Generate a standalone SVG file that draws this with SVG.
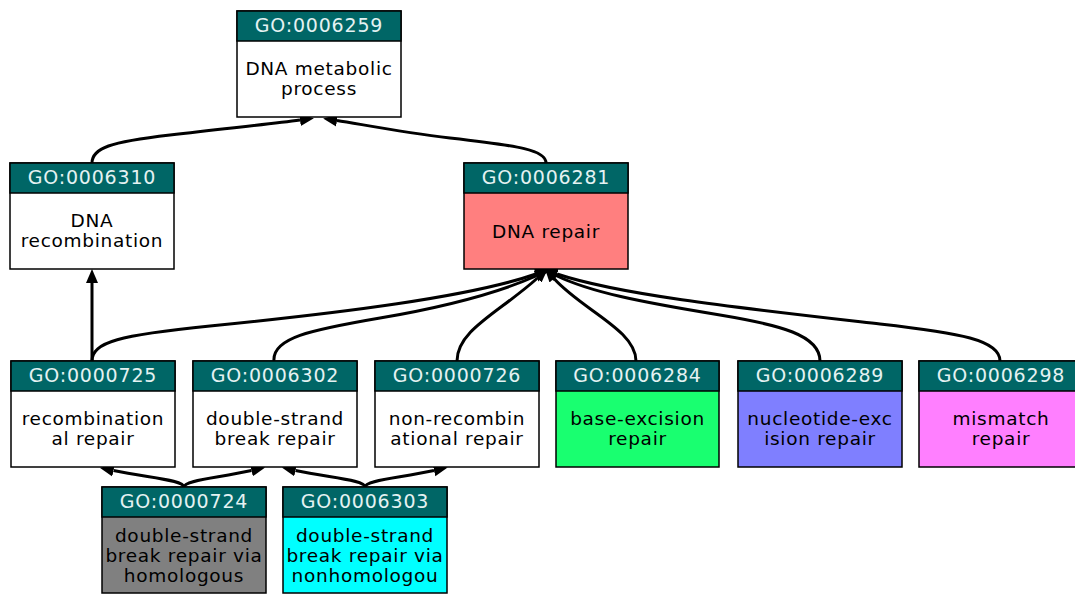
<svg xmlns="http://www.w3.org/2000/svg" width="1075" height="594" viewBox="0 0 1075 594">
<defs>
<marker id="arr" markerUnits="userSpaceOnUse" markerWidth="16" markerHeight="14" refX="0" refY="6.5" orient="auto" viewBox="0 0 16 13">
<path d="M0,0.5 L14,6.5 L0,12.5 z" fill="#000"/>
</marker>
<style>
.box{stroke:#000;stroke-width:1.5}
.hd{fill:#006666;stroke:#000;stroke-width:1.5}
.ht{font-family:"DejaVu Sans",Verdana,sans-serif;font-size:19px;letter-spacing:0.8px;fill:#e4f2f2;text-anchor:middle}
.bt{font-family:"DejaVu Sans",Verdana,sans-serif;font-size:18.5px;letter-spacing:0.7px;fill:#000;text-anchor:middle}
.e{fill:none;stroke:#000;stroke-width:3;marker-end:url(#arr)}
</style>
</defs>
<rect width="1075" height="594" fill="#fff"/>
<g id="edges">
<path class="e" d="M92,163 C92,148 110,142 170,135 C230,128 270,124 300,120"/>
<path class="e" d="M546,163 C546,150 520,146 450,138 C400,132 360,124 337,120.5"/>
<path class="e" d="M92,361 L92,283"/>
<path class="e" d="M92,361 C92,342 120,335 210,326 C340,313 470,297 536,274"/>
<path class="e" d="M274,361 C272,338 310,330 380,318 C450,306 500,292 536,276"/>
<path class="e" d="M457,361 C457,330 500,312 537.5,278"/>
<path class="e" d="M636,361 C636,330 582,310 554,278.5"/>
<path class="e" d="M820,361 C820,335 780,325 720,315 C640,302 590,292 556,275.5"/>
<path class="e" d="M1000,361 C1000,340 960,333 880,324 C740,308 620,295 557,274"/>
<path class="e" d="M184,487 C184,480 150,478 113.5,470.5"/>
<path class="e" d="M184,487 C184,480 218,478 251.5,470.5"/>
<path class="e" d="M365,487 C365,480 331,478 295.5,470.5"/>
<path class="e" d="M365,487 C365,480 400,478 434,470.5"/>
</g>
<g id="GO0006259">
<rect class="box" x="237" y="11" width="164" height="106" fill="#fff"/>
<rect class="hd" x="237" y="11" width="164" height="30"/>
<text class="ht" x="319" y="32">GO:0006259</text>
<text class="bt" x="319" y="74.5">DNA metabolic</text>
<text class="bt" x="319" y="94.5">process</text>
</g>
<g id="GO0006310">
<rect class="box" x="10" y="163" width="164" height="106" fill="#fff"/>
<rect class="hd" x="10" y="163" width="164" height="30"/>
<text class="ht" x="92" y="184">GO:0006310</text>
<text class="bt" x="92" y="226.5">DNA</text>
<text class="bt" x="92" y="246.5">recombination</text>
</g>
<g id="GO0006281">
<rect class="box" x="464" y="163" width="164" height="106" fill="#ff7f7f"/>
<rect class="hd" x="464" y="163" width="164" height="30"/>
<text class="ht" x="546" y="184">GO:0006281</text>
<text class="bt" x="546" y="237.5">DNA repair</text>
</g>
<g id="GO0000725">
<rect class="box" x="11" y="361" width="164" height="106" fill="#fff"/>
<rect class="hd" x="11" y="361" width="164" height="30"/>
<text class="ht" x="93" y="382">GO:0000725</text>
<text class="bt" x="93" y="424.5">recombination</text>
<text class="bt" x="93" y="444.5">al repair</text>
</g>
<g id="GO0006302">
<rect class="box" x="193" y="361" width="164" height="106" fill="#fff"/>
<rect class="hd" x="193" y="361" width="164" height="30"/>
<text class="ht" x="275" y="382">GO:0006302</text>
<text class="bt" x="275" y="424.5">double-strand</text>
<text class="bt" x="275" y="444.5">break repair</text>
</g>
<g id="GO0000726">
<rect class="box" x="375" y="361" width="164" height="106" fill="#fff"/>
<rect class="hd" x="375" y="361" width="164" height="30"/>
<text class="ht" x="457" y="382">GO:0000726</text>
<text class="bt" x="457" y="424.5">non-recombin</text>
<text class="bt" x="457" y="444.5">ational repair</text>
</g>
<g id="GO0006284">
<rect class="box" x="556" y="361" width="163" height="106" fill="#19ff70"/>
<rect class="hd" x="556" y="361" width="163" height="30"/>
<text class="ht" x="637.5" y="382">GO:0006284</text>
<text class="bt" x="637.5" y="424.5">base-excision</text>
<text class="bt" x="637.5" y="444.5">repair</text>
</g>
<g id="GO0006289">
<rect class="box" x="738" y="361" width="164" height="106" fill="#7f7fff"/>
<rect class="hd" x="738" y="361" width="164" height="30"/>
<text class="ht" x="820" y="382">GO:0006289</text>
<text class="bt" x="820" y="424.5">nucleotide-exc</text>
<text class="bt" x="820" y="444.5">ision repair</text>
</g>
<g id="GO0006298">
<rect class="box" x="919" y="361" width="164" height="106" fill="#ff7fff"/>
<rect class="hd" x="919" y="361" width="164" height="30"/>
<text class="ht" x="1001" y="382">GO:0006298</text>
<text class="bt" x="1001" y="424.5">mismatch</text>
<text class="bt" x="1001" y="444.5">repair</text>
</g>
<g id="GO0000724">
<rect class="box" x="102" y="487" width="164" height="106" fill="#808080"/>
<rect class="hd" x="102" y="487" width="164" height="30"/>
<text class="ht" x="184" y="508">GO:0000724</text>
<text class="bt" x="184" y="542">double-strand</text>
<text class="bt" x="184" y="562">break repair via</text>
<text class="bt" x="184" y="582">homologous</text>
</g>
<g id="GO0006303">
<rect class="box" x="283" y="487" width="164" height="106" fill="#00ffff"/>
<rect class="hd" x="283" y="487" width="164" height="30"/>
<text class="ht" x="365" y="508">GO:0006303</text>
<text class="bt" x="365" y="542">double-strand</text>
<text class="bt" x="365" y="562">break repair via</text>
<text class="bt" x="365" y="582">nonhomologou</text>
</g>
</svg>
